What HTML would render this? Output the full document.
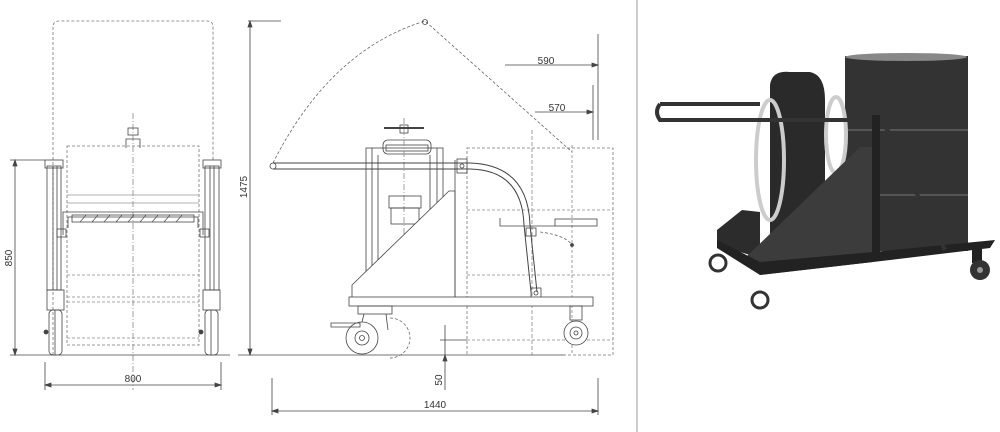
<!DOCTYPE html>
<html><head><meta charset="utf-8"><style>
html,body{margin:0;padding:0;background:#fff;width:1000px;height:432px;overflow:hidden}
svg{display:block}
text{font-family:"Liberation Sans",sans-serif;font-size:10px;fill:#333}
</style></head><body>
<svg width="1000" height="432" viewBox="0 0 1000 432" xmlns="http://www.w3.org/2000/svg">
<g stroke="#444" fill="none" stroke-width="0.8">
<!-- LEFT VIEW -->
<path d="M53 355 V27 Q53 21 59 21 H207 Q213 21 213 27 V160" stroke-dasharray="3,2" stroke="#777"/>
<rect x="67" y="146" width="132" height="199" stroke-dasharray="3,2" stroke="#777"/>
<line x1="67" y1="195" x2="199" y2="195" stroke="#999"/>
<line x1="67" y1="203" x2="199" y2="203" stroke="#999"/>
<line x1="67" y1="275" x2="199" y2="275" stroke-dasharray="3,2" stroke="#888"/>
<line x1="67" y1="297" x2="199" y2="297" stroke-dasharray="3,2" stroke="#888"/>
<line x1="67" y1="302" x2="199" y2="302" stroke-dasharray="3,2" stroke="#888"/>
<line x1="67" y1="338" x2="199" y2="338" stroke-dasharray="3,2" stroke="#888"/>
<line x1="133" y1="113" x2="133" y2="390" stroke-dasharray="6,2,1,2" stroke="#888"/>
<rect x="128" y="128" width="10" height="7"/><path d="M126 148 V139 H140 V148"/>
<rect x="45" y="160" width="18" height="8"/><rect x="47" y="166" width="14" height="124"/><line x1="53" y1="166" x2="53" y2="290"/><line x1="57" y1="166" x2="57" y2="290"/>
<rect x="203" y="160" width="18" height="8"/><rect x="205" y="166" width="14" height="124"/><line x1="210" y1="166" x2="210" y2="290"/><line x1="214" y1="166" x2="214" y2="290"/>
<rect x="47" y="290" width="17" height="20"/><rect x="203" y="290" width="17" height="20"/>
<rect x="49" y="310" width="13" height="45" rx="4"/><rect x="205" y="310" width="13" height="45" rx="4"/>
<line x1="55" y1="310" x2="55" y2="355"/><line x1="211" y1="310" x2="211" y2="355"/>
<circle cx="46" cy="332" r="2" fill="#444"/><circle cx="201" cy="332" r="2" fill="#444"/>
<path d="M63 235 V212 H203 V235"/><path d="M68 228 V217 H198 V228"/>
<rect x="72" y="215" width="122" height="7"/>
<path d="M80 222 l6 -7 M92 222 l6 -7 M104 222 l6 -7 M116 222 l6 -7 M128 222 l6 -7 M140 222 l6 -7 M152 222 l6 -7 M164 222 l6 -7 M176 222 l6 -7" stroke-width="0.6"/>
<rect x="57" y="229" width="9" height="8"/><rect x="200" y="229" width="9" height="8"/>
<line x1="15" y1="160" x2="15" y2="355"/><line x1="10" y1="160" x2="45" y2="160"/>
<line x1="10" y1="355" x2="230" y2="355"/>
<line x1="45" y1="362" x2="45" y2="390"/><line x1="221" y1="362" x2="221" y2="390"/>
<line x1="45" y1="385" x2="221" y2="385"/>
<path d="M45 385 l6 -2 v4z M221 385 l-6 -2 v4z M15 160 l-2 6 h4z M15 355 l-2 -6 h4z" fill="#444"/>

<!-- MIDDLE VIEW -->
<line x1="250" y1="21" x2="250" y2="355"/><line x1="248" y1="21" x2="281" y2="21"/>
<path d="M250 21 l-2 6 h4z M250 355 l-2 -6 h4z" fill="#444"/>
<line x1="238" y1="355" x2="565" y2="355"/>
<path d="M273 163 Q330 50 425 21 L572 152" stroke-dasharray="3,2" stroke="#666"/>
<circle cx="425" cy="22" r="2.5"/>
<rect x="467" y="148" width="146" height="207" stroke-dasharray="3,2" stroke="#777"/>
<line x1="532" y1="130" x2="532" y2="355" stroke-dasharray="4,2" stroke="#888"/>
<line x1="572" y1="145" x2="572" y2="355" stroke-dasharray="3,2" stroke="#888"/>
<line x1="467" y1="210" x2="613" y2="210" stroke-dasharray="3,2" stroke="#888"/>
<line x1="467" y1="275" x2="613" y2="275" stroke-dasharray="3,2" stroke="#888"/>
<line x1="467" y1="340" x2="613" y2="340" stroke-dasharray="3,2" stroke="#888"/>
<rect x="366" y="148" width="77" height="150"/>
<line x1="372" y1="148" x2="372" y2="298"/><line x1="437" y1="148" x2="437" y2="298"/>
<line x1="378" y1="155" x2="378" y2="298"/><line x1="430" y1="155" x2="430" y2="298"/>
<rect x="383" y="140" width="48" height="14" rx="5"/><rect x="386" y="145" width="42" height="6"/>
<line x1="384" y1="128" x2="424" y2="128" stroke-width="2"/><rect x="400" y="125" width="8" height="8"/>
<line x1="404" y1="118" x2="404" y2="290" stroke-dasharray="6,2,1,2" stroke="#888"/>
<rect x="389" y="196" width="32" height="12"/><rect x="391" y="208" width="28" height="16"/>
<path d="M352 297 V285 L449 191 H455 V297" fill="#fff"/>
<line x1="455" y1="160" x2="455" y2="297"/>
<path d="M273 163 H470 Q528 165 530 225 L537 292" stroke-width="1"/>
<path d="M273 169 H470 Q522 170 524 225 L531 292" stroke-width="1"/>
<circle cx="273" cy="166" r="3" fill="#fff"/>
<rect x="457" y="159" width="10" height="14"/><circle cx="462" cy="166" r="2"/>
<rect x="526" y="228" width="10" height="8"/><rect x="531" y="288" width="10" height="10"/><circle cx="536" cy="293" r="2"/>
<path d="M500 218 V226 H555"/><rect x="555" y="219" width="42" height="7"/>
<path d="M540 232 Q565 235 572 245" stroke-dasharray="3,2" stroke="#666"/><circle cx="572" cy="245" r="1.5" fill="#444"/>
<rect x="349" y="297" width="244" height="9" fill="#fff"/>
<rect x="358" y="306" width="34" height="8"/><path d="M364 314 L360 330 M386 314 L388 330"/>
<circle cx="362" cy="338" r="16" fill="#fff"/><circle cx="362" cy="338" r="7"/><circle cx="362" cy="338" r="2.5"/>
<path d="M331 323 H360 V327 H331Z"/>
<path d="M390 318 A20 20 0 0 1 390 358" stroke-dasharray="3,2" stroke="#666"/>
<rect x="570" y="306" width="12" height="14"/>
<circle cx="576" cy="333" r="12" fill="#fff"/><circle cx="576" cy="333" r="6"/><circle cx="576" cy="333" r="2"/>
<line x1="598" y1="34" x2="598" y2="140"/><line x1="593" y1="85" x2="593" y2="140"/>
<line x1="505" y1="65" x2="598" y2="65"/><line x1="535" y1="112" x2="593" y2="112"/>
<path d="M598 65 l-6 -2 v4z M593 112 l-6 -2 v4z M272 411 l6 -2 v4z M598 411 l-6 -2 v4z M445 355 l-2 6 h4z" fill="#444"/>
<line x1="445" y1="325" x2="445" y2="390"/><line x1="440" y1="340" x2="467" y2="340"/>
<line x1="272" y1="378" x2="272" y2="415"/><line x1="598" y1="378" x2="598" y2="415"/>
<line x1="272" y1="411" x2="598" y2="411"/>
</g>
<text x="546" y="64" text-anchor="middle">590</text>
<text x="557" y="111" text-anchor="middle">570</text>
<text x="133" y="382" text-anchor="middle">800</text>
<text x="435" y="408" text-anchor="middle">1440</text>
<text transform="translate(12,258) rotate(-90)" text-anchor="middle">850</text>
<text transform="translate(247,187) rotate(-90)" text-anchor="middle">1475</text>
<text transform="translate(442,380) rotate(-90)" text-anchor="middle">50</text>
<line x1="637" y1="0" x2="637" y2="432" stroke="#bbb" stroke-width="1.5"/>

<!-- PHOTO -->
<g>
<rect x="845" y="56" width="123" height="195" fill="#333"/>
<ellipse cx="906" cy="57" rx="61" ry="4" fill="#888"/>
<line x1="845" y1="130" x2="968" y2="130" stroke="#555" stroke-width="2"/>
<line x1="845" y1="195" x2="968" y2="195" stroke="#555" stroke-width="2"/>
<path d="M770 85 Q772 70 790 72 H810 Q825 75 825 100 V240 H770Z" fill="#2a2a2a"/>
<ellipse cx="770" cy="160" rx="14" ry="60" fill="none" stroke="#ccc" stroke-width="4"/>
<ellipse cx="836" cy="135" rx="10" ry="38" fill="none" stroke="#ccc" stroke-width="4"/>
<path d="M717 230 L742 210 L760 212 V258 L717 245Z" fill="#2c2c2c"/>
<path d="M745 258 L860 147 H873 V262 L760 275Z" fill="#3c3c3c"/>
<path d="M760 275 L873 262 L990 248 L995 240 L873 252 L760 262 L717 240 V248Z" fill="#222"/>
<path d="M660 104 H760 M660 104 Q654 112 660 120 L870 120 Q890 122 895 150 L945 250" stroke="#333" stroke-width="4" fill="none"/>
<rect x="872" y="115" width="8" height="140" fill="#222"/>
<circle cx="718" cy="263" r="8" fill="none" stroke="#333" stroke-width="3"/>
<circle cx="760" cy="300" r="8" fill="none" stroke="#333" stroke-width="3"/>
<rect x="972" y="245" width="10" height="18" fill="#222"/>
<circle cx="980" cy="270" r="10" fill="#333"/><circle cx="980" cy="270" r="3" fill="#999"/>
</g>
</svg>
</body></html>
